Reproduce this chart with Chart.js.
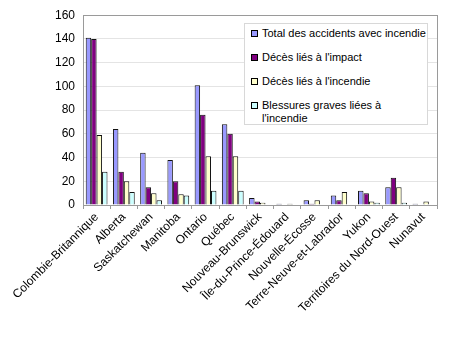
<!DOCTYPE html>
<html>
<head>
<meta charset="utf-8">
<script src="https://cdn.jsdelivr.net/npm/chart.js@4"></script>
<style>
  body { margin: 0; background: #fff; }
  #wrap { position: relative; width: 450px; height: 353px; }
  #legend {
    position: absolute; left: 244px; top: 23px; width: 184px; height: 102px;
    border: 1px solid #d8d8d8; background: #fff;
    font-family: "Liberation Sans", Arial, sans-serif; font-size: 11px; color: #000;
    box-sizing: border-box; padding: 3px 0 0 6px;
  }
  .item { display: flex; align-items: flex-start; line-height: 13px; margin-bottom: 11px; white-space: nowrap; }
  .box { width: 5px; height: 5px; border: 1px solid #000; margin: 3px 4px 0 0; flex: none; }
</style>
</head>
<body>
<div id="wrap">
  <canvas id="c" width="450" height="353"></canvas>
  <div id="legend"></div>
</div>
<script>
// provinces / territoires
const provinces = [
  'Colombie-Britannique', 'Alberta', 'Saskatchewan', 'Manitoba', 'Ontario', 'Québec',
  'Nouveau-Brunswick', 'Île-du-Prince-Édouard', 'Nouvelle-Écosse',
  'Terre-Neuve-et-Labrador', 'Yukon', 'Territoires du Nord-Ouest', 'Nunavut'
];
const seriesNames = [
  'Total des accidents avec incendie',
  'Décès liés à l\'impact',
  'Décès liés à l\'incendie',
  'Blessures graves liées à l\'incendie'
];
const totalAccidents = [141, 64, 44, 38, 101, 68, 6, 1, 4, 8, 12, 15, 1];
const decesImpact    = [140, 28, 15, 20, 76, 60, 3, 0, 1, 4, 10, 23, 0];
const decesIncendie  = [59, 20, 10, 9, 41, 41, 2, 1, 4, 11, 3, 15, 3];
const blessures      = [28, 11, 4, 8, 12, 12, 0, 0, 0, 0, 2, 2, 0];
const yTicks = [0, 20, 40, 60, 80, 100, 120, 140, 160];

const colors = ['#9999ff', '#800080', '#ffffcc', '#ccffff'];
const values = [totalAccidents, decesImpact, decesIncendie, blessures];

// plot frame (gray border round the plot area)
const frame = {
  id: 'frame',
  afterDatasetsDraw(chart) {
    const a = chart.chartArea;
    const ctx = chart.ctx;
    ctx.save();
    ctx.strokeStyle = '#9a9a9a';
    ctx.lineWidth = 1;
    ctx.strokeRect(Math.round(a.left) + 0.5, Math.round(a.top) + 0.5,
      Math.round(a.right - a.left), Math.round(a.bottom - a.top));
    ctx.restore();
  }
};

new Chart(document.getElementById('c'), {
  type: 'bar',
  data: {
    labels: provinces,
    datasets: values.map((v, i) => ({
      label: seriesNames[i],
      data: v,
      backgroundColor: colors[i],
      borderColor: '#111',
      borderWidth: 1,
      borderSkipped: 'bottom'
    }))
  },
  options: {
    responsive: false,
    animation: false,
    devicePixelRatio: 1,
    layout: { padding: { top: 15, right: 13, left: 0, bottom: 0 } },
    datasets: { bar: { categoryPercentage: 0.8, barPercentage: 1 } },
    plugins: { legend: { display: false }, tooltip: { enabled: false } },
    scales: {
      x: {
        grid: { offset: true, drawOnChartArea: false, drawTicks: true, tickLength: 4, color: '#9a9a9a' },
        border: { color: '#9a9a9a' },
        ticks: {
          minRotation: 45, maxRotation: 45, padding: 1, autoSkip: false,
          color: '#000', font: { family: 'Liberation Sans', size: 12 }
        },
        afterFit(scale) { scale.height = 148; }
      },
      y: {
        min: 0, max: 160,
        afterBuildTicks(scale) { scale.ticks = yTicks.map(v => ({ value: v })); },
        grid: { color: '#e4e4e4', drawTicks: false },
        border: { color: '#9a9a9a' },
        ticks: { padding: 8, color: '#000', font: { family: 'Liberation Sans', size: 12 } },
        afterFit(scale) { scale.width = 83; }
      }
    }
  },
  plugins: [frame]
});

// legend
const legend = document.getElementById('legend');
seriesNames.forEach((name, i) => {
  const row = document.createElement('div');
  row.className = 'item';
  const box = document.createElement('span');
  box.className = 'box';
  box.style.background = colors[i];
  const txt = document.createElement('span');
  txt.textContent = name;
  if (i === 3) { txt.style.whiteSpace = 'normal'; txt.style.width = '130px'; }
  row.appendChild(box);
  row.appendChild(txt);
  legend.appendChild(row);
});
</script>
</body>
</html>
